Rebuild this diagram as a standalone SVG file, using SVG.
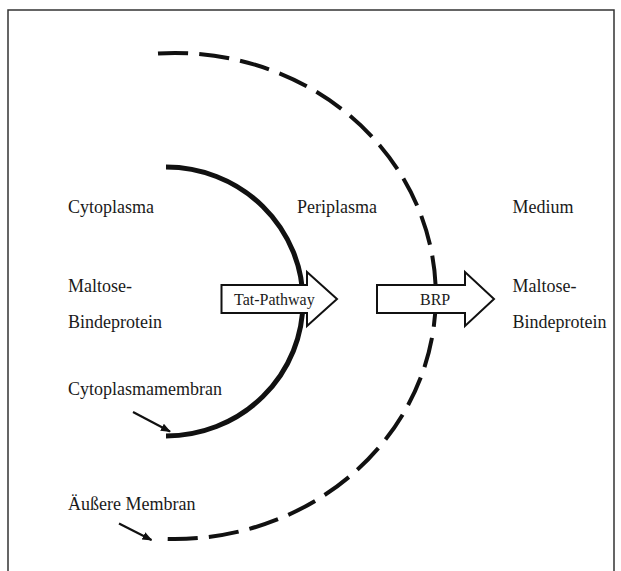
<svg xmlns="http://www.w3.org/2000/svg" width="621" height="571" viewBox="0 0 621 571">
  <style>
    .lbl { font-family: "Liberation Serif", "Times New Roman", serif; font-size: 18px; fill: #1a1a1a; }
    .albl { font-family: "Liberation Serif", "Times New Roman", serif; font-size: 16px; fill: #1a1a1a; }
    .membrane { fill: none; stroke: #111; stroke-width: 5; }
    .outer { fill: none; stroke: #111; stroke-width: 4; stroke-dasharray: 29.6 10.95; }
    .flow { fill: #fff; stroke: #111; stroke-width: 2; stroke-linejoin: miter; }
    .pointer { fill: none; stroke: #111; stroke-width: 2.2; marker-end: url(#tip); }
  </style>
  <defs>
    <marker id="tip" viewBox="0 0 10 8" refX="9" refY="4" markerWidth="10" markerHeight="8" markerUnits="userSpaceOnUse" orient="auto">
      <path d="M0,0 L10,4 L0,8 Z" fill="#111"/>
    </marker>
  </defs>

  <!-- frame (open at the bottom) -->
  <path d="M8,580 V10 H614 V580" fill="none" stroke="#333" stroke-width="1.5"/>

  <g id="membranes">
    <!-- inner (cytoplasmic) membrane -->
    <path id="cytoplasmamembran" class="membrane" d="M166,167 A137,134.5 0 0 1 166,436"/>
    <!-- outer membrane, dashed -->
    <path id="aeussere-membran" class="outer" pathLength="800" d="M158,53.5 A261,243 0 1 1 167.7,538.9"/>
  </g>

  <g id="connectors">
    <line class="pointer" x1="133" y1="412" x2="170" y2="431.5"/>
    <line class="pointer" x1="119" y1="523.5" x2="151.5" y2="540"/>
  </g>

  <g id="tat-pathway">
    <polygon class="flow" points="221.5,285 307,285 307,272 337,299 307,326 307,313 221.5,313"/>
    <text class="albl" x="234" y="305">Tat-Pathway</text>
  </g>

  <g id="brp">
    <polygon class="flow" points="377,285 465,285 465,272 494,299 465,326 465,313 377,313"/>
    <text class="albl" x="420" y="305">BRP</text>
  </g>

  <g id="cytoplasma">
    <text class="lbl" x="68" y="213">Cytoplasma</text>
    <text class="lbl" x="68" y="292">Maltose-</text>
    <text class="lbl" x="68" y="328">Bindeprotein</text>
  </g>

  <g id="periplasma">
    <text class="lbl" x="297" y="213">Periplasma</text>
  </g>

  <g id="medium">
    <text class="lbl" x="512.5" y="213">Medium</text>
    <text class="lbl" x="512.5" y="292">Maltose-</text>
    <text class="lbl" x="512.5" y="328">Bindeprotein</text>
  </g>

  <g id="membrane-labels">
    <text class="lbl" x="68" y="395">Cytoplasmamembran</text>
    <text class="lbl" x="68" y="510">Äußere Membran</text>
  </g>
</svg>
